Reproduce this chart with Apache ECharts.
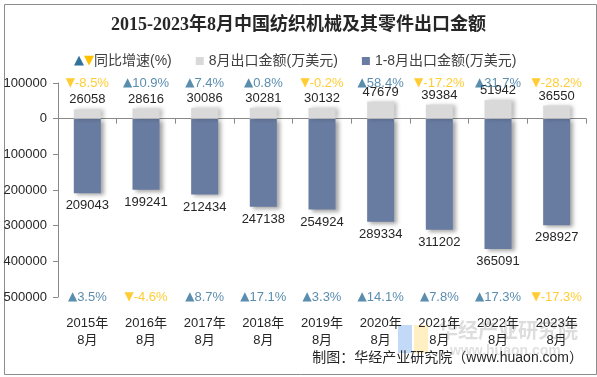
<!DOCTYPE html>
<html>
<head>
<meta charset="utf-8">
<script src="https://cdn.jsdelivr.net/npm/echarts@6/dist/echarts.min.js"></script>
<style>
html, body { margin: 0; padding: 0; background: #fff; }
#main { width: 597px; height: 377px; }
</style>
</head>
<body>
<div id="main"></div>
<script>
// 数据
var years = ['2015年\n8月', '2016年\n8月', '2017年\n8月', '2018年\n8月', '2019年\n8月', '2020年\n8月', '2021年\n8月', '2022年\n8月', '2023年\n8月'];
var monthValue = [26058, 28616, 30086, 30281, 30132, 47679, 39384, 51942, 36550];
var cumValue = [209043, 199241, 212434, 247138, 254924, 289334, 311202, 365091, 298927];
var monthGrowth = [-8.5, 10.9, 7.4, 0.8, -0.2, 58.4, -17.2, 31.7, -28.2];
var cumGrowth = [3.5, -4.6, 8.7, 17.1, 3.3, 14.1, 7.8, 17.3, -17.3];

var FONT = '"Liberation Sans", "Noto Sans CJK SC", sans-serif';
var UP = '#31719a', DOWN = '#ffc000';

var chart = echarts.init(document.getElementById('main'));

function growthLabel(v) {
    return v >= 0 ? '{ut|▲}{u|' + v.toFixed(1) + '%}' : '{dt|▼}{d|' + v.toFixed(1) + '%}';
}
var growthRich = {
    ut: { color: UP, fontSize: 12, fontFamily: '"DejaVu Sans"' },
    dt: { color: DOWN, fontSize: 12, fontFamily: '"DejaVu Sans"' },
    u: { color: UP, fontSize: 13, fontFamily: FONT },
    d: { color: DOWN, fontSize: 13, fontFamily: FONT }
};

var option = {
    animation: false,
    backgroundColor: '#fff',
    title: {
        text: '2015-2023年8月中国纺织机械及其零件出口金额',
        left: 'center',
        top: 11,
        textStyle: { fontSize: 18, fontWeight: 'bold', color: '#262626', fontFamily: '"Liberation Serif", "Noto Sans CJK SC", serif' }
    },
    legend: {
        top: 49,
        left: 56,
        itemGap: 24,
        itemWidth: 8,
        itemHeight: 8,
        textStyle: { fontSize: 14, color: '#404040', fontFamily: FONT,
            rich: { u: { color: UP, fontSize: 13, fontFamily: '"DejaVu Sans"' }, d: { color: DOWN, fontSize: 13, fontFamily: '"DejaVu Sans"' } } },
        formatter: function (name) {
            if (name === '同比增速(%)') return '{u|▲}{d|▼}同比增速(%)';
            return name;
        },
        data: [
            { name: '同比增速(%)', icon: 'none' },
            { name: '8月出口金额(万美元)', icon: 'rect' },
            { name: '1-8月出口金额(万美元)', icon: 'rect' }
        ]
    },
    grid: { left: 58, right: 11, top: 83, bottom: 80 },
    xAxis: [{
        type: 'category',
        data: years,
        position: 'bottom',
        axisLine: { show: false, onZero: false },
        axisTick: { show: false },
        axisLabel: { color: '#262626', fontSize: 13, fontFamily: FONT, margin: 18, lineHeight: 17 }
    }, {
        type: 'category',
        data: years,
        position: 'bottom',
        axisLine: { onZero: true, lineStyle: { color: '#898989' } },
        axisTick: { show: true, lineStyle: { color: '#898989' } },
        axisLabel: { show: false }
    }],
    yAxis: {
        type: 'value',
        min: -500000,
        max: 100000,
        interval: 100000,
        axisLine: { show: true, lineStyle: { color: '#898989' } },
        axisTick: { show: true, lineStyle: { color: '#898989' } },
        splitLine: { show: false },
        axisLabel: { color: '#262626', fontSize: 13, fontFamily: FONT, margin: 11,
            formatter: function (v) { return Math.abs(v); } }
    },
    series: [{
        name: '1-8月出口金额(万美元)',
        type: 'bar',
        barWidth: 27,
        barGap: '-100%',
        itemStyle: { color: '#687ba0', shadowColor: 'rgba(0,0,0,0.35)', shadowBlur: 4, shadowOffsetX: 3, shadowOffsetY: 2 },
        label: { show: true, position: 'bottom', distance: 6, color: '#262626', fontSize: 13, fontFamily: FONT,
            formatter: function (p) { return Math.abs(p.value); } },
        data: cumValue.map(function (v) { return -v; })
    }, {
        name: '8月出口金额(万美元)',
        type: 'bar',
        barWidth: 27,
        barGap: '-100%',
        itemStyle: { color: '#d9d9d9', shadowColor: 'rgba(0,0,0,0.25)', shadowBlur: 4, shadowOffsetX: 3, shadowOffsetY: 0 },
        label: { show: true, position: 'top', distance: 3, color: '#262626', fontSize: 13, fontFamily: FONT },
        data: monthValue
    }, {
        name: '同比增速(%)',
        type: 'scatter',
        symbolSize: 0,
        itemStyle: { color: UP },
        label: { show: true, position: 'inside', rich: growthRich,
            formatter: function (p) { return growthLabel(monthGrowth[p.dataIndex]); } },
        data: monthGrowth.map(function () { return 100000; })
    }, {
        name: '1-8月同比增速',
        type: 'scatter',
        symbolSize: 0,
        label: { show: true, position: 'inside', rich: growthRich,
            formatter: function (p) { return growthLabel(cumGrowth[p.dataIndex]); } },
        data: cumGrowth.map(function () { return -500000; })
    }],
    graphic: [
        { type: 'rect', left: 2, top: 2, shape: { width: 592, height: 370 }, style: { fill: 'none', stroke: '#8c8c8c', lineWidth: 1 }, silent: true },
        { type: 'rect', left: 398, top: 325, shape: { width: 14, height: 28 }, style: { fill: 'rgba(120,170,240,0.45)' }, z: 0 },
        { type: 'rect', left: 414, top: 325, shape: { width: 14, height: 28 }, style: { fill: 'rgba(255,220,120,0.45)' }, z: 0 },
        { type: 'text', left: 438, top: 320, style: { text: '华经产业研究院', fill: 'rgba(170,170,170,0.4)', font: 'bold 20px "Noto Sans CJK SC"' }, z: 0 },
        { type: 'text', left: 450, top: 344, style: { text: 'www.huaon.com', fill: 'rgba(170,170,170,0.35)', font: 'bold 14px "Liberation Sans"' }, z: 0 },
        { type: 'text', right: 14, top: 351, style: { text: '制图：华经产业研究院（www.huaon.com）', fill: '#262626', font: '14px "Liberation Sans", "Noto Sans CJK SC"' }, z: 10 }
    ]
};
chart.setOption(option);
</script>
</body>
</html>
